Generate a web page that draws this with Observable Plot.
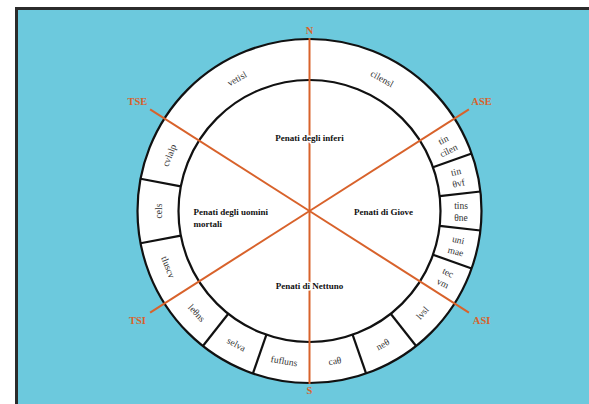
<!DOCTYPE html>
<html><head><meta charset="utf-8">
<script src="https://cdn.jsdelivr.net/npm/d3@7"></script>
<script src="https://cdn.jsdelivr.net/npm/@observablehq/plot@0.6"></script>
<style>
html,body{margin:0;padding:0;background:#fff;overflow:hidden}
#chart{position:absolute;left:15px;top:7px;border-left:3px solid #2b2b2b;border-top:3px solid #2b2b2b;}
#chart svg{display:block}
</style></head><body><div id="chart"></div>
<script>
// Outer ring regions (clockwise from north) and their boundary angles (degrees, compass)
const regions = ["cilensl","tin\ncilen","tin\nθvf","tins\nθne","uni\nmae","tec\nvm","lvsl","neθ","caθ","fufluns","selva","leθns","tluscv","cels","cvlalp","vetisl"];
const regionBounds = [0,57.5,70.5,83.5,96.5,109.5,122.5,141.7,160.8,180,199.2,218.3,237.5,259.2,280.8,302.5,360];
// Cardinal / cross lines
const directions = ["N","ASE","ASI","S","TSI","TSE"];
const directionAngles = [0,57.5,122.5,180,237.5,302.5];
// Inner sectors
const sectors = ["Penati degli inferi","Penati di Giove","Penati di Nettuno","Penati degli uomini\nmortali"];
const sectorAngles = [0,90,180,270];

const W = 571, H = 394, CX = 291, CY = 200.5;
const outerR = 172, innerR = 131, midR = 151.5;
const orange = "#d8622b";
const serif = "'Liberation Serif', 'Times New Roman', serif";
const rad = a => a * Math.PI / 180;
const px = (a, r) => r * Math.sin(rad(a));
const py = (a, r) => r * Math.cos(rad(a));

const regionData = regions.map((name, i) => {
  const a0 = regionBounds[i], a1 = regionBounds[i + 1];
  return {name, a0, a1, mid: (a0 + a1) / 2};
});
const separators = regionBounds.filter(a => a > 0 && a < 360 && !directionAngles.includes(a));
const dirData = directions.map((name, i) => ({name, a: directionAngles[i]}));
const sectorData = sectors.map((name, i) => ({name, a: sectorAngles[i]}));

function ringRotate(a) {
  if (a > 57.5 && a < 122.5) return a - 90;      // right side: radial
  if (a >= 122.5 && a < 255) return a - 180;     // bottom: tangent, tops inward
  return a > 180 ? a - 360 : a;                  // top/left: tangent, tops outward
}
const reach = a => (a % 180 === 0 ? 173 : 189);
const labelR = a => (a % 180 === 0 ? 180 : 204);

const sectorStyle = {text: "name", fontSize: 9, fontWeight: "bold", fontFamily: serif, fill: "#111",
  lineHeight: 1.4, stroke: "white", strokeWidth: 3};

const chart = Plot.plot({
  width: W, height: H,
  margin: 0,
  x: {domain: [-CX, W - CX], axis: null},
  y: {domain: [-(H - CY), CY], axis: null},
  style: {background: "#6cc9dd", overflow: "visible"},
  marks: [
    Plot.dot([0], {x: 0, y: 0, r: outerR, fill: "white", stroke: "#111", strokeWidth: 2.2}),
    Plot.dot([0], {x: 0, y: 0, r: innerR, fill: "white", stroke: "#111", strokeWidth: 2.2}),
    Plot.link(separators, {
      x1: a => px(a, innerR), y1: a => py(a, innerR),
      x2: a => px(a, outerR), y2: a => py(a, outerR),
      stroke: "#111", strokeWidth: 2.2
    }),
    Plot.text(regionData, {
      x: d => px(d.mid, midR), y: d => py(d.mid, midR),
      text: "name", rotate: d => ringRotate(d.mid),
      fontSize: 9.5, fontFamily: serif, fill: "#333", lineHeight: 1.25
    }),
    Plot.link(dirData, {
      x1: 0, y1: 0,
      x2: d => px(d.a, reach(d.a)), y2: d => py(d.a, reach(d.a)),
      stroke: orange, strokeWidth: 2
    }),
    Plot.text(dirData, {
      x: d => px(d.a, labelR(d.a)), y: d => py(d.a, labelR(d.a)),
      text: "name", fontSize: 10.5, fontWeight: "bold", fontFamily: serif, fill: orange
    }),
    Plot.text(sectorData.filter(d => d.a !== 270), {
      x: d => px(d.a, 74), y: d => py(d.a, 74),
      textAnchor: "middle", ...sectorStyle
    }),
    Plot.text(sectorData.filter(d => d.a === 270), {
      x: d => px(d.a, 116), y: -6,
      textAnchor: "start", ...sectorStyle
    })
  ]
});
document.getElementById("chart").appendChild(chart);
</script>
</body></html>
